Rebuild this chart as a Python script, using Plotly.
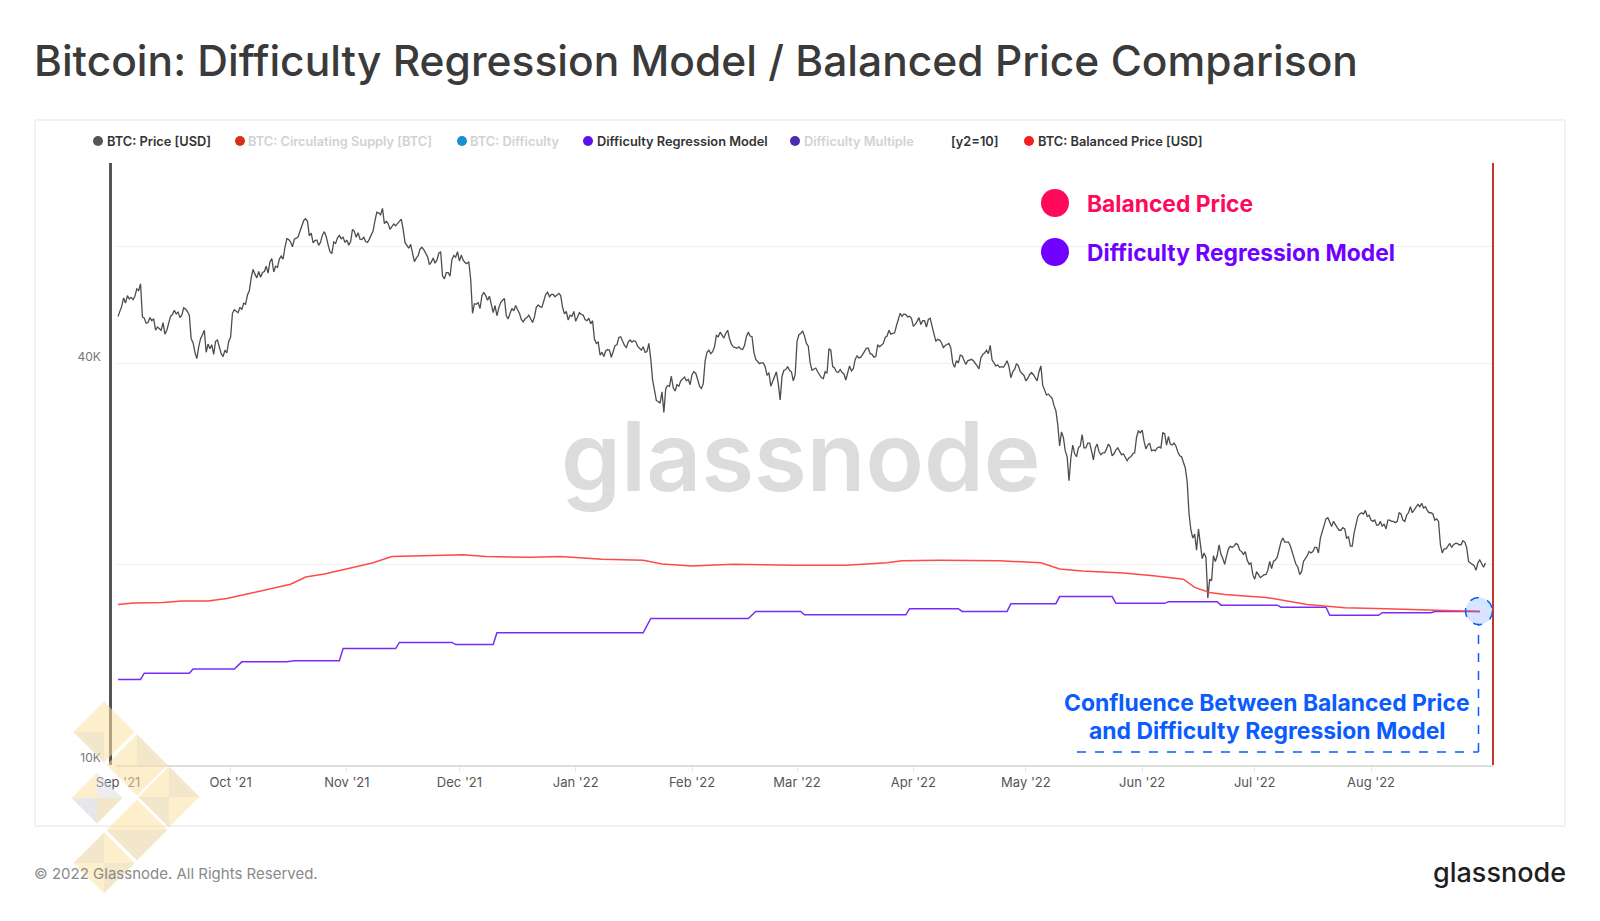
import pandas as pd
import plotly.graph_objects as go

# price in thousand USD, two readings per day from 2021-09-01 00:00
sep21 = [47.1,47.9,48.8,50.2,49.3,50.6,50.0,50.3,49.9,50.5,51.8,51.5,52.7,47.0,46.8,46.0,46.1,46.9,46.4,46.7,44.9,45.4,45.2,44.9,46.1,44.3,44.9,46.0,47.1,47.4,48.1,47.5,47.8,46.9,47.3,48.5,48.3,47.9,47.3,43.6,43.0,41.6,40.7,42.4,43.6,44.2,44.9,41.6,42.8,42.1,42.7,41.3,43.2,43.4,42.2,41.4,41.0,41.9,41.5,43.2]
oct21 = [43.8,47.6,48.2,47.9,47.7,48.6,48.2,49.3,49.1,50.7,51.5,53.8,55.4,54.5,53.8,55.0,53.9,54.8,55.0,56.0,54.7,56.9,57.5,54.9,56.0,55.8,57.4,58.0,57.4,59.8,61.6,61.4,60.9,59.9,61.5,61.7,62.0,63.2,64.3,65.6,66.0,65.4,62.2,62.8,60.7,61.2,61.3,60.2,60.9,62.4,63.1,62.0,60.3,58.9,58.5,60.9,60.6,61.8,62.3,61.6,61.9,60.8]
nov21 = [61.3,60.2,61.0,63.6,63.2,61.9,62.9,61.5,61.4,61.9,61.0,60.8,61.5,62.4,63.3,65.6,67.5,67.3,66.9,68.4,64.9,65.4,64.9,63.6,64.2,64.8,64.4,64.9,65.5,65.9,63.6,60.8,60.2,59.6,60.4,58.2,56.9,57.6,58.1,59.4,59.8,59.3,58.7,57.9,56.3,56.8,57.6,56.6,57.2,58.6,58.9,54.2,53.6,54.8,54.8,54.1,57.3,58.1,57.8,58.9]
dec21 = [57.0,58.2,57.2,56.7,56.5,56.9,53.6,47.6,49.2,49.1,49.4,48.4,50.6,51.2,50.6,49.8,50.5,49.0,47.7,48.9,47.2,48.5,49.4,49.8,50.1,47.2,46.7,47.6,48.4,48.0,48.9,48.2,47.6,46.6,46.2,46.7,46.9,47.3,46.7,46.1,47.0,48.6,49.0,48.7,48.6,49.8,50.8,51.2,50.4,50.8,50.8,50.4,50.7,51.0,50.6,48.6,47.5,47.9,46.5,47.3,47.1,47.9]
jan22 = [46.3,47.0,47.7,47.4,47.3,46.6,46.4,46.8,45.9,46.4,43.5,42.9,43.1,41.2,41.6,41.0,41.8,42.0,41.9,40.9,41.8,42.6,42.7,43.8,43.9,43.1,42.6,42.3,43.1,43.4,43.1,43.3,43.2,42.5,42.2,41.9,42.4,41.6,41.7,42.9,40.7,37.8,36.5,35.2,35.1,34.9,36.3,33.8,36.7,37.1,37.0,38.3,36.8,36.4,37.2,37.0,37.7,38.0,38.2,37.7,37.9,37.2]
feb22 = [38.5,38.9,38.7,37.9,37.0,36.7,37.3,40.4,41.6,41.9,41.4,41.7,42.4,44.1,43.9,44.6,44.1,43.7,44.4,44.9,43.6,42.8,42.4,42.3,42.2,42.4,42.1,42.0,42.6,43.9,44.6,44.0,43.9,41.6,40.6,40.3,40.0,40.1,40.1,39.6,38.4,38.8,37.0,37.6,38.2,38.9,37.3,35.3,38.3,39.1,39.2,39.6,39.1,38.9,37.7,38.5]
mar22 = [43.2,44.2,44.4,44.8,44.0,42.9,42.5,40.1,39.1,39.3,39.4,38.9,38.4,38.1,38.0,38.9,38.7,42.1,41.9,39.6,39.4,38.9,38.8,39.2,38.8,38.6,37.8,38.9,39.7,39.0,39.3,40.6,41.1,40.8,40.9,41.3,41.8,42.2,42.2,41.4,41.3,40.9,41.0,42.7,42.4,42.6,42.9,43.8,44.0,44.9,44.3,44.4,44.5,45.6,46.8,47.6,47.1,47.5,47.4,47.0,47.1,46.8]
apr22 = [45.5,45.8,46.3,46.9,45.8,46.4,46.4,45.4,46.6,46.8,45.5,44.1,43.2,43.5,43.4,43.0,42.3,42.6,42.7,42.9,42.2,40.1,39.5,40.4,40.1,41.2,41.1,40.4,39.9,40.4,40.5,40.6,40.4,40.1,39.7,39.3,40.8,41.3,41.5,41.9,41.4,42.6,40.5,40.1,39.7,39.8,39.5,39.6,39.5,39.9,40.4,39.6,38.1,38.9,39.2,40.0,39.7,38.9,38.6,38.4]
may22 = [37.7,38.0,38.5,38.8,38.5,38.0,37.7,38.9,39.7,37.1,36.6,35.9,36.0,35.8,35.5,34.6,34.0,32.4,30.1,31.6,31.0,29.6,29.0,26.7,28.9,30.2,29.3,29.0,29.9,30.1,31.3,29.9,29.9,30.4,30.4,29.6,28.7,29.9,30.3,29.5,29.2,29.4,29.4,29.8,30.3,30.0,29.1,29.3,29.7,29.9,29.5,29.2,29.3,28.9,28.6,28.9,29.0,29.3,29.4,31.0,31.7,31.5]
jun22 = [31.8,30.6,29.8,30.2,30.4,29.6,29.7,29.6,29.9,30.0,29.9,31.5,31.4,30.2,31.1,30.3,30.2,30.4,30.1,29.5,29.1,29.0,28.4,27.9,26.6,23.8,22.5,21.9,22.2,21.0,22.6,21.6,20.4,20.8,20.5,17.8,19.0,18.9,20.6,20.2,20.6,21.4,20.7,20.4,20.0,20.6,21.1,21.3,21.2,21.3,21.5,21.4,21.0,20.9,20.7,20.9,20.3,20.0,20.1,19.3]
jul22 = [19.0,19.5,19.3,19.1,19.2,19.3,19.3,19.6,20.2,19.7,20.2,20.3,20.5,21.0,21.6,21.9,21.6,21.6,21.6,21.3,20.9,20.4,20.0,19.8,19.3,19.5,20.2,20.4,20.6,20.9,20.8,20.9,21.2,21.2,20.8,21.9,22.4,22.9,23.4,23.5,23.2,22.8,23.2,22.9,22.7,22.5,22.5,22.7,22.6,21.9,22.0,21.3,21.3,22.3,22.9,23.6,23.8,23.9,23.8,24.1,23.6,23.7]
aug22 = [23.3,23.2,23.3,22.9,22.9,23.2,22.8,23.0,22.6,23.3,23.3,23.2,23.2,23.1,23.2,23.9,23.8,23.3,23.2,23.7,23.9,24.4,23.9,24.1,24.4,24.6,24.4,24.7,24.3,24.4,24.1,23.9,23.9,23.8,23.3,23.4,23.2,21.4,20.8,21.1,21.1,21.3,21.5,21.2,21.4,21.5,21.5,21.4,21.4,21.7,21.6,21.2,20.2,20.1,20.0,19.9,19.6,20.1,20.3,20.0,19.8,20.1]

price_k = sep21 + oct21 + nov21 + dec21 + jan22 + feb22 + mar22 + apr22 + may22 + jun22 + jul22 + aug22
price_usd = [v * 1000 for v in price_k]
price_dates = pd.date_range("2021-09-01", periods=len(price_usd), freq="12h")

balanced_dates = ["2021-09-01","2021-09-05","2021-09-13","2021-09-18","2021-09-25","2021-09-30","2021-10-06","2021-10-11","2021-10-17","2021-10-21","2021-10-26","2021-11-02","2021-11-08","2021-11-13","2021-11-20","2021-11-26","2021-12-02","2021-12-08","2021-12-20","2021-12-28","2022-01-08","2022-01-19","2022-01-24","2022-02-01","2022-02-12","2022-02-28","2022-03-14","2022-03-25","2022-03-29","2022-04-08","2022-04-24","2022-05-05","2022-05-10","2022-05-16","2022-05-27","2022-06-04","2022-06-12","2022-06-15","2022-06-19","2022-06-23","2022-07-04","2022-07-15","2022-07-25","2022-08-05","2022-08-16","2022-08-30"]
balanced_k = [17.41,17.50,17.53,17.62,17.62,17.77,18.08,18.34,18.67,19.14,19.34,19.75,20.11,20.54,20.58,20.61,20.68,20.54,20.50,20.54,20.35,20.28,20.03,19.89,20.00,19.93,19.93,20.11,20.25,20.28,20.25,20.11,19.68,19.55,19.41,19.22,19.00,18.47,18.15,18.02,17.84,17.41,17.22,17.16,17.09,17.00]

model_dates = ["2021-09-01","2021-09-07","2021-09-08","2021-09-20","2021-09-21","2021-10-02","2021-10-04","2021-10-16","2021-10-18","2021-10-30","2021-10-31","2021-11-14","2021-11-15","2021-11-29","2021-11-30","2021-12-10","2021-12-11","2022-01-19","2022-01-21","2022-02-16","2022-02-18","2022-03-02","2022-03-03","2022-03-30","2022-03-31","2022-04-13","2022-04-14","2022-04-26","2022-04-27","2022-05-09","2022-05-10","2022-05-24","2022-05-25","2022-06-07","2022-06-08","2022-06-21","2022-06-22","2022-07-07","2022-07-08","2022-07-20","2022-07-21","2022-08-03","2022-08-04","2022-08-17","2022-08-18","2022-08-30"]
model_k = [13.44,13.44,13.73,13.73,13.93,13.93,14.28,14.28,14.33,14.33,14.95,14.95,15.27,15.27,15.16,15.16,15.79,15.79,16.59,16.59,16.99,16.99,16.80,16.80,17.16,17.16,17.00,17.00,17.46,17.46,17.89,17.89,17.48,17.48,17.58,17.58,17.37,17.37,17.25,17.25,16.77,16.77,16.92,16.92,16.99,16.99]

month_ticks = ["2021-09-01","2021-10-01","2021-11-01","2021-12-01","2022-01-01","2022-02-01","2022-03-01","2022-04-01","2022-05-01","2022-06-01","2022-07-01","2022-08-01"]
month_labels = ["Sep '21","Oct '21","Nov '21","Dec '21","Jan '22","Feb '22","Mar '22","Apr '22","May '22","Jun '22","Jul '22","Aug '22"]
y_ticks = [10000, 20000, 40000, 60000, 80000]
y_labels = ["10K", "", "40K", "", ""]

L, R, T, B = 110, 1493, 163, 765


def px(x):
    return (x - L) / (R - L)


def py(y):
    return (B - y) / (B - T)


fig = go.Figure()
fig.add_trace(go.Scatter(x=price_dates, y=price_usd, mode="lines", line=dict(color="#4d4d4d", width=1.3), yaxis="y"))
fig.add_trace(go.Scatter(x=model_dates, y=[v * 1000 for v in model_k], mode="lines", line=dict(color="#7a2cf5", width=1.5), yaxis="y"))
fig.add_trace(go.Scatter(x=balanced_dates, y=[v * 1000 for v in balanced_k], mode="lines", line=dict(color="#ff4a4a", width=1.5), yaxis="y2"))

notes = []
shapes = []


def label(text, x, y, size, color, anchor="left", weight=400, opacity=1):
    notes.append(dict(text=text, x=px(x), y=py(y), xref="paper", yref="paper", xanchor=anchor, yanchor="middle",
                      showarrow=False, opacity=opacity, font=dict(family="Inter", size=size, color=color, weight=weight)))


def dot(x, y, r, color):
    shapes.append(dict(type="circle", xref="paper", yref="paper", x0=px(x - r), x1=px(x + r), y0=py(y + r), y1=py(y - r),
                       fillcolor=color, line=dict(width=0)))


# outer panel
shapes.append(dict(type="rect", xref="paper", yref="paper", x0=px(35), x1=px(1565), y0=py(826), y1=py(120),
                   line=dict(color="#eeeeee", width=1.5), layer="below"))

label("Bitcoin: Difficulty Regression Model / Balanced Price Comparison", 32, 61, 42.5, "#3a3a3a", weight=500)
label("glassnode", 801, 456, 96, "#dcdcdc", anchor="center", weight=600)

# legend row
legend_rows = [
    (98, 105, "BTC: Price [USD]", "#555555", "#333333"),
    (240, 246, "BTC: Circulating Supply [BTC]", "#d9301a", "#d2d2d2"),
    (462, 468, "BTC: Difficulty", "#1a8fd1", "#d2d2d2"),
    (588, 595, "Difficulty Regression Model", "#5b10ee", "#333333"),
    (795, 802, "Difficulty Multiple", "#4b2db5", "#d2d2d2"),
    (1029, 1036, "BTC: Balanced Price [USD]", "#f5201c", "#333333"),
]
for dx, tx, name, dot_col, txt_col in legend_rows:
    dot(dx, 141, 5, dot_col)
    label(name, tx, 141, 12.8, txt_col, weight=600)
label("[y2=10]", 949, 141, 12.8, "#333333", weight=600)

# in-chart key
dot(1055, 203, 14, "#ff0a5a")
dot(1055, 252, 14, "#7000ff")
label("Balanced Price", 1085, 203, 22.8, "#ff0a5a", weight=700)
label("Difficulty Regression Model", 1085, 252, 22.8, "#7000ff", weight=700)

# confluence callout
shapes.append(dict(type="circle", xref="paper", yref="paper", x0=px(1465.5), x1=px(1492.5), y0=py(624.5), y1=py(597.5),
                   fillcolor="rgba(10,92,255,0.17)", line=dict(color="#0a5cff", width=1.5, dash="dash")))
shapes.append(dict(type="line", xref="paper", yref="paper", x0=px(1478.5), x1=px(1478.5), y0=py(752), y1=py(624.5),
                   line=dict(color="#0a5cff", width=1.5, dash="dash")))
shapes.append(dict(type="line", xref="paper", yref="paper", x0=px(1077), x1=px(1478.5), y0=py(752), y1=py(752),
                   line=dict(color="#0a5cff", width=1.5, dash="dash")))
label("Confluence Between Balanced Price", 1267, 703, 22.9, "#0a5cff", anchor="center", weight=700)
label("and Difficulty Regression Model", 1267, 731, 22.9, "#0a5cff", anchor="center", weight=700)

# footer
label("© 2022 Glassnode. All Rights Reserved.", 32, 873, 15, "#8a8a8a")
label("glassnode", 1568, 872, 27, "#1f1f1f", anchor="right", weight=500)

# gold logo, bottom left
CREAM = "rgba(252,226,160,0.55)"
TAN = "rgba(232,212,160,0.55)"
GREY = "rgba(200,202,208,0.45)"
PALE = "rgba(214,216,222,0.45)"
diamonds = [
    (104, 732, 31, [CREAM, CREAM, TAN, CREAM]),
    (137, 765, 31, [CREAM, TAN, CREAM, CREAM]),
    (169, 797, 31, [CREAM, TAN, TAN, CREAM]),
    (137, 830, 31, [CREAM, CREAM, TAN, TAN]),
    (104, 863, 31, [TAN, CREAM, CREAM, TAN]),
    (97, 798, 26, [CREAM, PALE, GREY, TAN]),
]
for cx, cy, h, cols in diamonds:
    h -= 0.5
    corners = [((cx - h, cy), (cx, cy - h)), ((cx, cy - h), (cx + h, cy)), ((cx - h, cy), (cx, cy + h)), ((cx, cy + h), (cx + h, cy))]
    for (a, b), col in zip(corners, cols):
        path = f"M {px(cx)} {py(cy)} L {px(a[0])} {py(a[1])} L {px(b[0])} {py(b[1])} Z"
        shapes.append(dict(type="path", path=path, xref="paper", yref="paper", fillcolor=col, line=dict(width=0)))

fig.update_layout(
    width=1600, height=921, autosize=False,
    margin=dict(l=L, r=1600 - R, t=T, b=921 - B),
    paper_bgcolor="white", plot_bgcolor="white",
    showlegend=False, hovermode=False,
    annotations=notes, shapes=shapes,
    xaxis=dict(
        type="date", domain=[px(116), 1],
        range=["2021-08-31 11:00", "2022-09-02 12:30"],
        tickvals=month_ticks, ticktext=month_labels,
        showgrid=False, zeroline=False, showline=True, linecolor="#dddddd", linewidth=1.5,
        ticks="outside", ticklen=5, tickcolor="#e6e6e6", tickfont=dict(family="Inter", size=13, color="#555555"),
    ),
    yaxis=dict(
        type="log", range=[4, 4.90309], anchor="free", position=0,
        tickvals=y_ticks, ticktext=y_labels, ticks="",
        showgrid=True, gridcolor="#f1f1f1", gridwidth=1, zeroline=False,
        showline=True, linecolor="#555555", linewidth=2.5,
        tickfont=dict(family="Inter", size=12, color="#777777"),
        ticklabelstandoff=6, ticklabelshift=-7,
    ),
    yaxis2=dict(
        type="log", range=[4, 4.90309], overlaying="y", side="right", anchor="free", position=1,
        showgrid=False, zeroline=False, showticklabels=False, ticks="",
        showline=True, linecolor="#c0392b", linewidth=2,
    ),
)

fig.write_html("out.html", config={"displayModeBar": False}, post_script="document.body.style.margin='0';")
